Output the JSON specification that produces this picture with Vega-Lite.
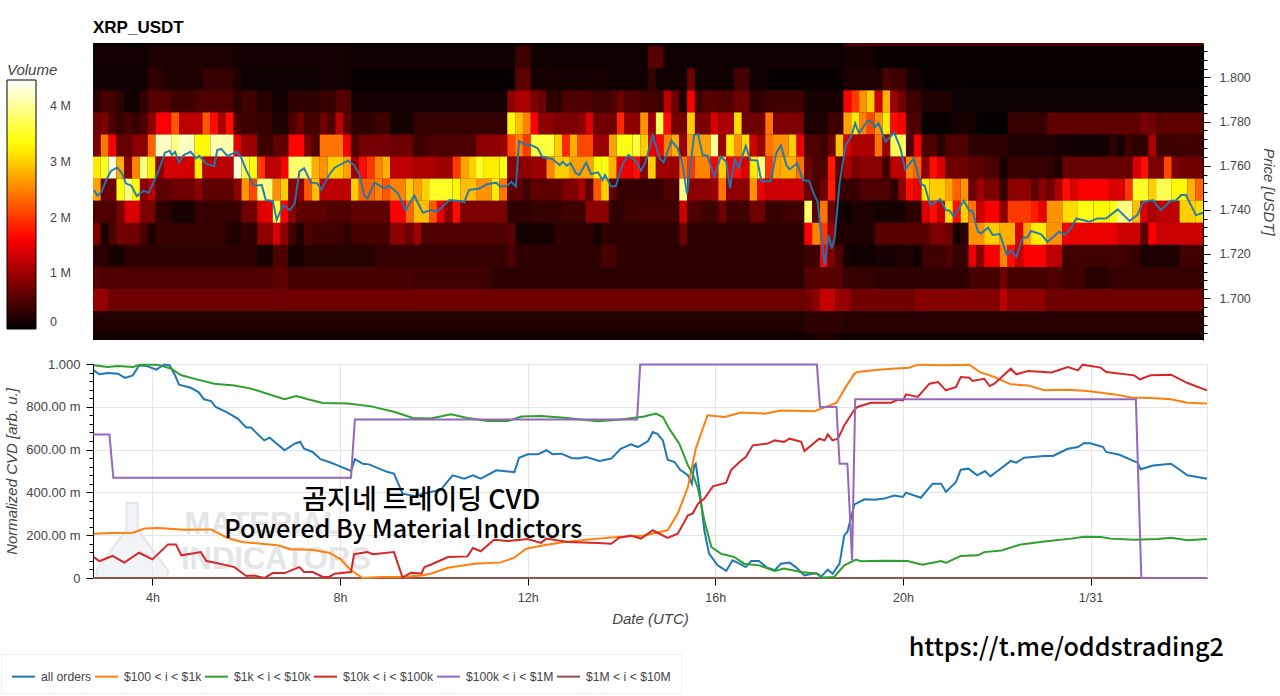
{"$schema":"https://vega.github.io/schema/vega-lite/v6.json","background":"white","padding":{"left":0,"top":19,"right":0,"bottom":0},"bounds":"flush","spacing":24,
"config":{"font":"Liberation Sans","view":{"stroke":null},"axis":{"labelColor":"#444444","titleColor":"#444444","titleFontStyle":"italic","titleFontWeight":"normal","titleFontSize":15,"labelFontSize":12.5,"domainColor":"#000000","tickColor":"#000000","labelOverlap":false,"labelBound":false}},
"resolve":{"scale":{"color":"independent"},"legend":{"color":"independent"}},
"datasets":{
"cells":[
{"t":164,"e":1124,"p":1.8191,"v":0.05},{"t":1124,"e":1584,"p":1.8191,"v":0.5},
{"t":164,"e":234,"p":1.8091,"v":0.12},{"t":234,"e":344,"p":1.8091,"v":0.2},{"t":344,"e":494,"p":1.8091,"v":0.12},{"t":494,"e":704,"p":1.8091,"v":0.1},{"t":704,"e":724,"p":1.8091,"v":0.4},{"t":724,"e":874,"p":1.8091,"v":0.1},{"t":874,"e":894,"p":1.8091,"v":0.55},{"t":894,"e":1124,"p":1.8091,"v":0.1},{"t":1124,"e":1164,"p":1.8091,"v":0.15},{"t":1164,"e":1584,"p":1.8091,"v":0.05},
{"t":164,"e":234,"p":1.7991,"v":0.1},{"t":234,"e":254,"p":1.7991,"v":0.3},{"t":254,"e":304,"p":1.7991,"v":0.2},{"t":304,"e":344,"p":1.7991,"v":0.35},{"t":344,"e":354,"p":1.7991,"v":0.2},{"t":354,"e":454,"p":1.7991,"v":0.08},{"t":454,"e":494,"p":1.7991,"v":0.12},{"t":494,"e":704,"p":1.7991,"v":0.05},{"t":704,"e":724,"p":1.7991,"v":0.6},{"t":724,"e":824,"p":1.7991,"v":0.15},{"t":824,"e":874,"p":1.7991,"v":0.1},{"t":874,"e":884,"p":1.7991,"v":0.35},{"t":884,"e":924,"p":1.7991,"v":0.1},{"t":924,"e":934,"p":1.7991,"v":0.7},{"t":934,"e":984,"p":1.7991,"v":0.1},{"t":984,"e":1004,"p":1.7991,"v":0.45},{"t":1004,"e":1024,"p":1.7991,"v":0.1},{"t":1024,"e":1124,"p":1.7991,"v":0.05},{"t":1124,"e":1174,"p":1.7991,"v":0.2},{"t":1174,"e":1184,"p":1.7991,"v":0.5},{"t":1184,"e":1204,"p":1.7991,"v":0.4},{"t":1204,"e":1224,"p":1.7991,"v":0.15},{"t":1224,"e":1584,"p":1.7991,"v":0.05},
{"t":164,"e":174,"p":1.7891,"v":0.3},{"t":174,"e":194,"p":1.7891,"v":0.45},{"t":194,"e":204,"p":1.7891,"v":0.3},{"t":204,"e":224,"p":1.7891,"v":0.1},{"t":224,"e":234,"p":1.7891,"v":0.3},{"t":234,"e":264,"p":1.7891,"v":0.55},{"t":264,"e":294,"p":1.7891,"v":0.4},{"t":294,"e":344,"p":1.7891,"v":0.5},{"t":344,"e":354,"p":1.7891,"v":0.3},{"t":354,"e":374,"p":1.7891,"v":0.4},{"t":374,"e":394,"p":1.7891,"v":0.25},{"t":394,"e":414,"p":1.7891,"v":0.1},{"t":414,"e":454,"p":1.7891,"v":0.3},{"t":454,"e":474,"p":1.7891,"v":0.35},{"t":474,"e":494,"p":1.7891,"v":0.55},{"t":494,"e":694,"p":1.7891,"v":0.12},{"t":694,"e":704,"p":1.7891,"v":0.9},{"t":704,"e":724,"p":1.7891,"v":1.1},{"t":724,"e":734,"p":1.7891,"v":0.8},{"t":734,"e":744,"p":1.7891,"v":0.7},{"t":744,"e":764,"p":1.7891,"v":0.3},{"t":764,"e":804,"p":1.7891,"v":0.5},{"t":804,"e":824,"p":1.7891,"v":0.4},{"t":824,"e":834,"p":1.7891,"v":0.5},{"t":834,"e":844,"p":1.7891,"v":0.7},{"t":844,"e":864,"p":1.7891,"v":0.5},{"t":864,"e":884,"p":1.7891,"v":0.45},{"t":884,"e":894,"p":1.7891,"v":0.4},{"t":894,"e":904,"p":1.7891,"v":1.2},{"t":904,"e":914,"p":1.7891,"v":0.7},{"t":914,"e":924,"p":1.7891,"v":0.2},{"t":924,"e":934,"p":1.7891,"v":1.6},{"t":934,"e":944,"p":1.7891,"v":0.4},{"t":944,"e":964,"p":1.7891,"v":0.55},{"t":964,"e":984,"p":1.7891,"v":0.5},{"t":984,"e":1004,"p":1.7891,"v":0.7},{"t":1004,"e":1024,"p":1.7891,"v":0.3},{"t":1024,"e":1074,"p":1.7891,"v":0.4},{"t":1074,"e":1124,"p":1.7891,"v":0.15},{"t":1124,"e":1134,"p":1.7891,"v":1.6},{"t":1134,"e":1144,"p":1.7891,"v":2},{"t":1144,"e":1154,"p":1.7891,"v":2.6},{"t":1154,"e":1164,"p":1.7891,"v":3},{"t":1164,"e":1174,"p":1.7891,"v":1.3},{"t":1174,"e":1184,"p":1.7891,"v":2.8},{"t":1184,"e":1194,"p":1.7891,"v":1},{"t":1194,"e":1204,"p":1.7891,"v":0.7},{"t":1204,"e":1224,"p":1.7891,"v":0.4},{"t":1224,"e":1264,"p":1.7891,"v":0.2},{"t":1264,"e":1584,"p":1.7891,"v":0.08},
{"t":164,"e":174,"p":1.7791,"v":0.7},{"t":174,"e":184,"p":1.7791,"v":0.8},{"t":184,"e":194,"p":1.7791,"v":0.5},{"t":194,"e":204,"p":1.7791,"v":0.35},{"t":204,"e":214,"p":1.7791,"v":0.45},{"t":214,"e":224,"p":1.7791,"v":0.35},{"t":224,"e":234,"p":1.7791,"v":0.5},{"t":234,"e":244,"p":1.7791,"v":0.9},{"t":244,"e":264,"p":1.7791,"v":1.6},{"t":264,"e":274,"p":1.7791,"v":2.2},{"t":274,"e":304,"p":1.7791,"v":1.2},{"t":304,"e":314,"p":1.7791,"v":2.2},{"t":314,"e":324,"p":1.7791,"v":1.7},{"t":324,"e":334,"p":1.7791,"v":1.1},{"t":334,"e":344,"p":1.7791,"v":1.7},{"t":344,"e":354,"p":1.7791,"v":0.5},{"t":354,"e":374,"p":1.7791,"v":0.4},{"t":374,"e":394,"p":1.7791,"v":0.35},{"t":394,"e":414,"p":1.7791,"v":0.2},{"t":414,"e":424,"p":1.7791,"v":0.5},{"t":424,"e":434,"p":1.7791,"v":0.7},{"t":434,"e":454,"p":1.7791,"v":0.45},{"t":454,"e":464,"p":1.7791,"v":0.7},{"t":464,"e":474,"p":1.7791,"v":0.5},{"t":474,"e":484,"p":1.7791,"v":1.2},{"t":484,"e":494,"p":1.7791,"v":0.6},{"t":494,"e":524,"p":1.7791,"v":0.3},{"t":524,"e":544,"p":1.7791,"v":0.4},{"t":544,"e":574,"p":1.7791,"v":0.15},{"t":574,"e":694,"p":1.7791,"v":0.33},{"t":694,"e":704,"p":1.7791,"v":3.3},{"t":704,"e":714,"p":1.7791,"v":2.9},{"t":714,"e":724,"p":1.7791,"v":2.5},{"t":724,"e":734,"p":1.7791,"v":1.6},{"t":734,"e":754,"p":1.7791,"v":0.9},{"t":754,"e":784,"p":1.7791,"v":0.8},{"t":784,"e":794,"p":1.7791,"v":0.9},{"t":794,"e":804,"p":1.7791,"v":1.4},{"t":804,"e":834,"p":1.7791,"v":0.7},{"t":834,"e":844,"p":1.7791,"v":1.9},{"t":844,"e":864,"p":1.7791,"v":0.9},{"t":864,"e":874,"p":1.7791,"v":2.6},{"t":874,"e":884,"p":1.7791,"v":1},{"t":884,"e":894,"p":1.7791,"v":3.7},{"t":894,"e":904,"p":1.7791,"v":1.7},{"t":904,"e":924,"p":1.7791,"v":0.75},{"t":924,"e":934,"p":1.7791,"v":3},{"t":934,"e":954,"p":1.7791,"v":0.8},{"t":954,"e":964,"p":1.7791,"v":1.4},{"t":964,"e":984,"p":1.7791,"v":1.1},{"t":984,"e":994,"p":1.7791,"v":3.1},{"t":994,"e":1024,"p":1.7791,"v":0.7},{"t":1024,"e":1034,"p":1.7791,"v":2.4},{"t":1034,"e":1074,"p":1.7791,"v":0.8},{"t":1074,"e":1104,"p":1.7791,"v":0.2},{"t":1104,"e":1124,"p":1.7791,"v":0.4},{"t":1124,"e":1134,"p":1.7791,"v":2.7},{"t":1134,"e":1144,"p":1.7791,"v":3.2},{"t":1144,"e":1154,"p":1.7791,"v":2.5},{"t":1154,"e":1164,"p":1.7791,"v":2.1},{"t":1164,"e":1174,"p":1.7791,"v":2.6},{"t":1174,"e":1184,"p":1.7791,"v":3.2},{"t":1184,"e":1194,"p":1.7791,"v":1.7},{"t":1194,"e":1204,"p":1.7791,"v":1.6},{"t":1204,"e":1224,"p":1.7791,"v":0.5},{"t":1224,"e":1264,"p":1.7791,"v":0.05},{"t":1264,"e":1294,"p":1.7791,"v":0.15},{"t":1294,"e":1334,"p":1.7791,"v":0.03},{"t":1334,"e":1384,"p":1.7791,"v":0.35},{"t":1384,"e":1504,"p":1.7791,"v":0.6},{"t":1504,"e":1514,"p":1.7791,"v":0.8},{"t":1514,"e":1524,"p":1.7791,"v":0.7},{"t":1524,"e":1584,"p":1.7791,"v":0.6},
{"t":164,"e":174,"p":1.7691,"v":0.8},{"t":174,"e":184,"p":1.7691,"v":2.4},{"t":184,"e":194,"p":1.7691,"v":1.6},{"t":194,"e":214,"p":1.7691,"v":0.65},{"t":214,"e":234,"p":1.7691,"v":0.9},{"t":234,"e":244,"p":1.7691,"v":2.3},{"t":244,"e":264,"p":1.7691,"v":4.2},{"t":264,"e":274,"p":1.7691,"v":3.9},{"t":274,"e":294,"p":1.7691,"v":4.2},{"t":294,"e":314,"p":1.7691,"v":3.3},{"t":314,"e":344,"p":1.7691,"v":4.1},{"t":344,"e":354,"p":1.7691,"v":1.5},{"t":354,"e":374,"p":1.7691,"v":1},{"t":374,"e":394,"p":1.7691,"v":0.4},{"t":394,"e":414,"p":1.7691,"v":0.6},{"t":414,"e":434,"p":1.7691,"v":1.65},{"t":434,"e":444,"p":1.7691,"v":0.8},{"t":444,"e":454,"p":1.7691,"v":0.5},{"t":454,"e":484,"p":1.7691,"v":2.4},{"t":484,"e":494,"p":1.7691,"v":1.6},{"t":494,"e":504,"p":1.7691,"v":0.5},{"t":504,"e":544,"p":1.7691,"v":0.75},{"t":544,"e":574,"p":1.7691,"v":0.7},{"t":574,"e":594,"p":1.7691,"v":0.4},{"t":594,"e":654,"p":1.7691,"v":0.5},{"t":654,"e":684,"p":1.7691,"v":0.9},{"t":684,"e":694,"p":1.7691,"v":1},{"t":694,"e":704,"p":1.7691,"v":2.1},{"t":704,"e":714,"p":1.7691,"v":2.5},{"t":714,"e":724,"p":1.7691,"v":2},{"t":724,"e":754,"p":1.7691,"v":3.6},{"t":754,"e":764,"p":1.7691,"v":3},{"t":764,"e":774,"p":1.7691,"v":1.9},{"t":774,"e":784,"p":1.7691,"v":2.8},{"t":784,"e":804,"p":1.7691,"v":2.1},{"t":804,"e":824,"p":1.7691,"v":1},{"t":824,"e":834,"p":1.7691,"v":2.7},{"t":834,"e":854,"p":1.7691,"v":3.4},{"t":854,"e":864,"p":1.7691,"v":3.6},{"t":864,"e":874,"p":1.7691,"v":3},{"t":874,"e":884,"p":1.7691,"v":1.5},{"t":884,"e":894,"p":1.7691,"v":1.6},{"t":894,"e":904,"p":1.7691,"v":2.5},{"t":904,"e":914,"p":1.7691,"v":2.8},{"t":914,"e":924,"p":1.7691,"v":1},{"t":924,"e":954,"p":1.7691,"v":2.7},{"t":954,"e":964,"p":1.7691,"v":4},{"t":964,"e":974,"p":1.7691,"v":1},{"t":974,"e":984,"p":1.7691,"v":3.2},{"t":984,"e":994,"p":1.7691,"v":2.6},{"t":994,"e":1004,"p":1.7691,"v":3.1},{"t":1004,"e":1014,"p":1.7691,"v":1.3},{"t":1014,"e":1024,"p":1.7691,"v":1},{"t":1024,"e":1034,"p":1.7691,"v":2.4},{"t":1034,"e":1054,"p":1.7691,"v":2.6},{"t":1054,"e":1064,"p":1.7691,"v":3},{"t":1064,"e":1074,"p":1.7691,"v":1.5},{"t":1074,"e":1094,"p":1.7691,"v":0.5},{"t":1094,"e":1104,"p":1.7691,"v":0.4},{"t":1104,"e":1114,"p":1.7691,"v":0.7},{"t":1114,"e":1124,"p":1.7691,"v":2.9},{"t":1124,"e":1134,"p":1.7691,"v":1.4},{"t":1134,"e":1164,"p":1.7691,"v":1.1},{"t":1164,"e":1174,"p":1.7691,"v":2.4},{"t":1174,"e":1184,"p":1.7691,"v":1},{"t":1184,"e":1204,"p":1.7691,"v":3.7},{"t":1204,"e":1214,"p":1.7691,"v":0.5},{"t":1214,"e":1224,"p":1.7691,"v":1.6},{"t":1224,"e":1244,"p":1.7691,"v":0.5},{"t":1244,"e":1254,"p":1.7691,"v":0.25},{"t":1254,"e":1284,"p":1.7691,"v":0.5},{"t":1284,"e":1334,"p":1.7691,"v":0.3},{"t":1334,"e":1394,"p":1.7691,"v":0.2},{"t":1394,"e":1414,"p":1.7691,"v":0.15},{"t":1414,"e":1464,"p":1.7691,"v":0.1},{"t":1464,"e":1474,"p":1.7691,"v":0.3},{"t":1474,"e":1484,"p":1.7691,"v":0.15},{"t":1484,"e":1494,"p":1.7691,"v":0.4},{"t":1494,"e":1514,"p":1.7691,"v":0.3},{"t":1514,"e":1524,"p":1.7691,"v":1.1},{"t":1524,"e":1584,"p":1.7691,"v":0.4},
{"t":164,"e":174,"p":1.7591,"v":3.2},{"t":174,"e":184,"p":1.7591,"v":3.5},{"t":184,"e":194,"p":1.7591,"v":4.3},{"t":194,"e":204,"p":1.7591,"v":2.8},{"t":204,"e":214,"p":1.7591,"v":0.9},{"t":214,"e":224,"p":1.7591,"v":2.5},{"t":224,"e":234,"p":1.7591,"v":3.9},{"t":234,"e":244,"p":1.7591,"v":3.2},{"t":244,"e":254,"p":1.7591,"v":0.9},{"t":254,"e":294,"p":1.7591,"v":1.35},{"t":294,"e":304,"p":1.7591,"v":3.2},{"t":304,"e":344,"p":1.7591,"v":1.2},{"t":344,"e":354,"p":1.7591,"v":4.3},{"t":354,"e":364,"p":1.7591,"v":3.7},{"t":364,"e":374,"p":1.7591,"v":3.4},{"t":374,"e":384,"p":1.7591,"v":2},{"t":384,"e":404,"p":1.7591,"v":1.2},{"t":404,"e":414,"p":1.7591,"v":1.6},{"t":414,"e":444,"p":1.7591,"v":3.8},{"t":444,"e":454,"p":1.7591,"v":2.8},{"t":454,"e":464,"p":1.7591,"v":2.6},{"t":464,"e":484,"p":1.7591,"v":3},{"t":484,"e":494,"p":1.7591,"v":2.7},{"t":494,"e":504,"p":1.7591,"v":1},{"t":504,"e":514,"p":1.7591,"v":1.7},{"t":514,"e":524,"p":1.7591,"v":2},{"t":524,"e":534,"p":1.7591,"v":2.5},{"t":534,"e":544,"p":1.7591,"v":2.8},{"t":544,"e":574,"p":1.7591,"v":1.2},{"t":574,"e":604,"p":1.7591,"v":1.1},{"t":604,"e":624,"p":1.7591,"v":1},{"t":624,"e":634,"p":1.7591,"v":2},{"t":634,"e":644,"p":1.7591,"v":2.7},{"t":644,"e":654,"p":1.7591,"v":3},{"t":654,"e":664,"p":1.7591,"v":3.5},{"t":664,"e":684,"p":1.7591,"v":3.2},{"t":684,"e":694,"p":1.7591,"v":3.4},{"t":694,"e":724,"p":1.7591,"v":0.9},{"t":724,"e":744,"p":1.7591,"v":1},{"t":744,"e":754,"p":1.7591,"v":2.5},{"t":754,"e":774,"p":1.7591,"v":3},{"t":774,"e":804,"p":1.7591,"v":2.7},{"t":804,"e":814,"p":1.7591,"v":3.3},{"t":814,"e":824,"p":1.7591,"v":3.4},{"t":824,"e":834,"p":1.7591,"v":2.8},{"t":834,"e":854,"p":1.7591,"v":1.5},{"t":854,"e":864,"p":1.7591,"v":1.7},{"t":864,"e":874,"p":1.7591,"v":0.9},{"t":874,"e":884,"p":1.7591,"v":3},{"t":884,"e":914,"p":1.7591,"v":1},{"t":914,"e":924,"p":1.7591,"v":2.4},{"t":924,"e":934,"p":1.7591,"v":2},{"t":934,"e":954,"p":1.7591,"v":2.5},{"t":954,"e":964,"p":1.7591,"v":1.6},{"t":964,"e":974,"p":1.7591,"v":3},{"t":974,"e":984,"p":1.7591,"v":1.6},{"t":984,"e":994,"p":1.7591,"v":1.7},{"t":994,"e":1004,"p":1.7591,"v":1.4},{"t":1004,"e":1014,"p":1.7591,"v":3.2},{"t":1014,"e":1024,"p":1.7591,"v":3.9},{"t":1024,"e":1034,"p":1.7591,"v":2},{"t":1034,"e":1044,"p":1.7591,"v":2.7},{"t":1044,"e":1064,"p":1.7591,"v":2.8},{"t":1064,"e":1074,"p":1.7591,"v":2.4},{"t":1074,"e":1084,"p":1.7591,"v":0.7},{"t":1084,"e":1104,"p":1.7591,"v":0.5},{"t":1104,"e":1114,"p":1.7591,"v":1.8},{"t":1114,"e":1124,"p":1.7591,"v":0.6},{"t":1124,"e":1134,"p":1.7591,"v":1.1},{"t":1134,"e":1144,"p":1.7591,"v":0.8},{"t":1144,"e":1164,"p":1.7591,"v":0.9},{"t":1164,"e":1174,"p":1.7591,"v":0.9},{"t":1174,"e":1184,"p":1.7591,"v":0.4},{"t":1184,"e":1204,"p":1.7591,"v":1.2},{"t":1204,"e":1214,"p":1.7591,"v":2.5},{"t":1214,"e":1224,"p":1.7591,"v":2.3},{"t":1224,"e":1234,"p":1.7591,"v":0.9},{"t":1234,"e":1244,"p":1.7591,"v":1.7},{"t":1244,"e":1254,"p":1.7591,"v":1.4},{"t":1254,"e":1284,"p":1.7591,"v":0.7},{"t":1284,"e":1304,"p":1.7591,"v":0.6},{"t":1304,"e":1324,"p":1.7591,"v":0.5},{"t":1324,"e":1334,"p":1.7591,"v":0.15},{"t":1334,"e":1394,"p":1.7591,"v":0.35},{"t":1394,"e":1404,"p":1.7591,"v":0.2},{"t":1404,"e":1494,"p":1.7591,"v":0.65},{"t":1494,"e":1504,"p":1.7591,"v":1.4},{"t":1504,"e":1514,"p":1.7591,"v":1.7},{"t":1514,"e":1534,"p":1.7591,"v":0.8},{"t":1534,"e":1544,"p":1.7591,"v":2.1},{"t":1544,"e":1554,"p":1.7591,"v":0.8},{"t":1554,"e":1584,"p":1.7591,"v":0.7},
{"t":164,"e":174,"p":1.7491,"v":2.7},{"t":174,"e":194,"p":1.7491,"v":0.7},{"t":194,"e":204,"p":1.7491,"v":3.4},{"t":204,"e":214,"p":1.7491,"v":3.9},{"t":214,"e":224,"p":1.7491,"v":3.3},{"t":224,"e":234,"p":1.7491,"v":0.9},{"t":234,"e":244,"p":1.7491,"v":1.2},{"t":244,"e":264,"p":1.7491,"v":0.6},{"t":264,"e":294,"p":1.7491,"v":0.7},{"t":294,"e":304,"p":1.7491,"v":0.9},{"t":304,"e":344,"p":1.7491,"v":0.6},{"t":344,"e":354,"p":1.7491,"v":0.9},{"t":354,"e":364,"p":1.7491,"v":2.6},{"t":364,"e":374,"p":1.7491,"v":2.1},{"t":374,"e":394,"p":1.7491,"v":3.9},{"t":394,"e":404,"p":1.7491,"v":2.6},{"t":404,"e":414,"p":1.7491,"v":3},{"t":414,"e":434,"p":1.7491,"v":0.9},{"t":434,"e":444,"p":1.7491,"v":2.2},{"t":444,"e":454,"p":1.7491,"v":2.9},{"t":454,"e":494,"p":1.7491,"v":1.2},{"t":494,"e":504,"p":1.7491,"v":3},{"t":504,"e":524,"p":1.7491,"v":2.3},{"t":524,"e":534,"p":1.7491,"v":2.5},{"t":534,"e":544,"p":1.7491,"v":2.2},{"t":544,"e":564,"p":1.7491,"v":2.5},{"t":564,"e":574,"p":1.7491,"v":3},{"t":574,"e":584,"p":1.7491,"v":2.7},{"t":584,"e":594,"p":1.7491,"v":3},{"t":594,"e":624,"p":1.7491,"v":3.5},{"t":624,"e":634,"p":1.7491,"v":3.3},{"t":634,"e":654,"p":1.7491,"v":2.9},{"t":654,"e":674,"p":1.7491,"v":2.6},{"t":674,"e":684,"p":1.7491,"v":3.2},{"t":684,"e":694,"p":1.7491,"v":2.4},{"t":694,"e":714,"p":1.7491,"v":0.6},{"t":714,"e":724,"p":1.7491,"v":0.4},{"t":724,"e":764,"p":1.7491,"v":0.6},{"t":764,"e":784,"p":1.7491,"v":0.8},{"t":784,"e":794,"p":1.7491,"v":1.1},{"t":794,"e":804,"p":1.7491,"v":0.6},{"t":804,"e":814,"p":1.7491,"v":2.2},{"t":814,"e":824,"p":1.7491,"v":3},{"t":824,"e":834,"p":1.7491,"v":0.6},{"t":834,"e":894,"p":1.7491,"v":0.35},{"t":894,"e":914,"p":1.7491,"v":0.5},{"t":914,"e":924,"p":1.7491,"v":3.9},{"t":924,"e":954,"p":1.7491,"v":0.9},{"t":954,"e":964,"p":1.7491,"v":1},{"t":964,"e":974,"p":1.7491,"v":2.4},{"t":974,"e":1004,"p":1.7491,"v":0.9},{"t":1004,"e":1014,"p":1.7491,"v":2.6},{"t":1014,"e":1024,"p":1.7491,"v":1.5},{"t":1024,"e":1074,"p":1.7491,"v":1.3},{"t":1074,"e":1084,"p":1.7491,"v":0.7},{"t":1084,"e":1094,"p":1.7491,"v":0.5},{"t":1094,"e":1104,"p":1.7491,"v":0.7},{"t":1104,"e":1114,"p":1.7491,"v":1.8},{"t":1114,"e":1124,"p":1.7491,"v":0.4},{"t":1124,"e":1144,"p":1.7491,"v":0.35},{"t":1144,"e":1184,"p":1.7491,"v":0.5},{"t":1184,"e":1194,"p":1.7491,"v":0.3},{"t":1194,"e":1204,"p":1.7491,"v":0.9},{"t":1204,"e":1214,"p":1.7491,"v":1.7},{"t":1214,"e":1224,"p":1.7491,"v":1.5},{"t":1224,"e":1234,"p":1.7491,"v":3.2},{"t":1234,"e":1254,"p":1.7491,"v":3},{"t":1254,"e":1264,"p":1.7491,"v":2.7},{"t":1264,"e":1274,"p":1.7491,"v":2.3},{"t":1274,"e":1284,"p":1.7491,"v":2.6},{"t":1284,"e":1294,"p":1.7491,"v":0.7},{"t":1294,"e":1304,"p":1.7491,"v":1},{"t":1304,"e":1324,"p":1.7491,"v":0.8},{"t":1324,"e":1334,"p":1.7491,"v":0.35},{"t":1334,"e":1364,"p":1.7491,"v":0.9},{"t":1364,"e":1374,"p":1.7491,"v":0.6},{"t":1374,"e":1384,"p":1.7491,"v":0.9},{"t":1384,"e":1394,"p":1.7491,"v":0.7},{"t":1394,"e":1404,"p":1.7491,"v":1.1},{"t":1404,"e":1414,"p":1.7491,"v":1.7},{"t":1414,"e":1424,"p":1.7491,"v":1.4},{"t":1424,"e":1464,"p":1.7491,"v":1.6},{"t":1464,"e":1484,"p":1.7491,"v":1.4},{"t":1484,"e":1494,"p":1.7491,"v":2},{"t":1494,"e":1514,"p":1.7491,"v":3.5},{"t":1514,"e":1524,"p":1.7491,"v":3},{"t":1524,"e":1544,"p":1.7491,"v":3.7},{"t":1544,"e":1564,"p":1.7491,"v":3.3},{"t":1564,"e":1574,"p":1.7491,"v":2.8},{"t":1574,"e":1584,"p":1.7491,"v":2.3},
{"t":164,"e":194,"p":1.7391,"v":0.5},{"t":194,"e":204,"p":1.7391,"v":0.8},{"t":204,"e":224,"p":1.7391,"v":1.4},{"t":224,"e":244,"p":1.7391,"v":0.8},{"t":244,"e":264,"p":1.7391,"v":0.3},{"t":264,"e":294,"p":1.7391,"v":0.15},{"t":294,"e":354,"p":1.7391,"v":0.35},{"t":354,"e":374,"p":1.7391,"v":0.7},{"t":374,"e":384,"p":1.7391,"v":1.4},{"t":384,"e":394,"p":1.7391,"v":1.5},{"t":394,"e":404,"p":1.7391,"v":3.6},{"t":404,"e":414,"p":1.7391,"v":1.6},{"t":414,"e":424,"p":1.7391,"v":0.9},{"t":424,"e":464,"p":1.7391,"v":0.6},{"t":464,"e":494,"p":1.7391,"v":0.5},{"t":494,"e":544,"p":1.7391,"v":0.6},{"t":544,"e":564,"p":1.7391,"v":1.6},{"t":564,"e":574,"p":1.7391,"v":2.3},{"t":574,"e":594,"p":1.7391,"v":2.9},{"t":594,"e":604,"p":1.7391,"v":2.2},{"t":604,"e":614,"p":1.7391,"v":1.5},{"t":614,"e":624,"p":1.7391,"v":0.9},{"t":624,"e":634,"p":1.7391,"v":1.7},{"t":634,"e":694,"p":1.7391,"v":0.8},{"t":694,"e":724,"p":1.7391,"v":0.3},{"t":724,"e":764,"p":1.7391,"v":0.35},{"t":764,"e":794,"p":1.7391,"v":0.4},{"t":794,"e":824,"p":1.7391,"v":0.9},{"t":824,"e":844,"p":1.7391,"v":0.3},{"t":844,"e":914,"p":1.7391,"v":0.4},{"t":914,"e":924,"p":1.7391,"v":1.3},{"t":924,"e":944,"p":1.7391,"v":0.5},{"t":944,"e":964,"p":1.7391,"v":0.4},{"t":964,"e":974,"p":1.7391,"v":0.7},{"t":974,"e":1004,"p":1.7391,"v":0.4},{"t":1004,"e":1024,"p":1.7391,"v":0.7},{"t":1024,"e":1044,"p":1.7391,"v":0.35},{"t":1044,"e":1074,"p":1.7391,"v":0.4},{"t":1074,"e":1084,"p":1.7391,"v":3.8},{"t":1084,"e":1094,"p":1.7391,"v":0.6},{"t":1094,"e":1104,"p":1.7391,"v":2.4},{"t":1104,"e":1114,"p":1.7391,"v":0.7},{"t":1114,"e":1124,"p":1.7391,"v":0.15},{"t":1124,"e":1134,"p":1.7391,"v":0.1},{"t":1134,"e":1164,"p":1.7391,"v":0.2},{"t":1164,"e":1204,"p":1.7391,"v":0.15},{"t":1204,"e":1224,"p":1.7391,"v":0.3},{"t":1224,"e":1234,"p":1.7391,"v":1.4},{"t":1234,"e":1244,"p":1.7391,"v":1.7},{"t":1244,"e":1254,"p":1.7391,"v":1.3},{"t":1254,"e":1264,"p":1.7391,"v":3.1},{"t":1264,"e":1274,"p":1.7391,"v":1.7},{"t":1274,"e":1284,"p":1.7391,"v":3},{"t":1284,"e":1294,"p":1.7391,"v":2.4},{"t":1294,"e":1304,"p":1.7391,"v":1.3},{"t":1304,"e":1324,"p":1.7391,"v":1.6},{"t":1324,"e":1334,"p":1.7391,"v":0.9},{"t":1334,"e":1364,"p":1.7391,"v":2},{"t":1364,"e":1374,"p":1.7391,"v":1.8},{"t":1374,"e":1384,"p":1.7391,"v":1.5},{"t":1384,"e":1404,"p":1.7391,"v":2.6},{"t":1404,"e":1424,"p":1.7391,"v":3.1},{"t":1424,"e":1444,"p":1.7391,"v":3.4},{"t":1444,"e":1464,"p":1.7391,"v":3.3},{"t":1464,"e":1474,"p":1.7391,"v":3.4},{"t":1474,"e":1494,"p":1.7391,"v":3.9},{"t":1494,"e":1504,"p":1.7391,"v":2.9},{"t":1504,"e":1514,"p":1.7391,"v":1.4},{"t":1514,"e":1524,"p":1.7391,"v":1.1},{"t":1524,"e":1554,"p":1.7391,"v":1.2},{"t":1554,"e":1574,"p":1.7391,"v":3},{"t":1574,"e":1584,"p":1.7391,"v":3.1},
{"t":164,"e":174,"p":1.7291,"v":0.8},{"t":174,"e":184,"p":1.7291,"v":0.2},{"t":184,"e":194,"p":1.7291,"v":0.5},{"t":194,"e":224,"p":1.7291,"v":0.7},{"t":224,"e":234,"p":1.7291,"v":0.5},{"t":234,"e":244,"p":1.7291,"v":0.2},{"t":244,"e":334,"p":1.7291,"v":0.35},{"t":334,"e":354,"p":1.7291,"v":0.2},{"t":354,"e":374,"p":1.7291,"v":0.3},{"t":374,"e":394,"p":1.7291,"v":0.9},{"t":394,"e":404,"p":1.7291,"v":1.4},{"t":404,"e":414,"p":1.7291,"v":0.9},{"t":414,"e":424,"p":1.7291,"v":0.45},{"t":424,"e":434,"p":1.7291,"v":0.2},{"t":434,"e":444,"p":1.7291,"v":0.5},{"t":444,"e":484,"p":1.7291,"v":0.4},{"t":484,"e":494,"p":1.7291,"v":0.3},{"t":494,"e":544,"p":1.7291,"v":0.45},{"t":544,"e":564,"p":1.7291,"v":0.9},{"t":564,"e":574,"p":1.7291,"v":0.7},{"t":574,"e":584,"p":1.7291,"v":1},{"t":584,"e":694,"p":1.7291,"v":0.5},{"t":694,"e":704,"p":1.7291,"v":0.6},{"t":704,"e":754,"p":1.7291,"v":0.15},{"t":754,"e":804,"p":1.7291,"v":0.3},{"t":804,"e":814,"p":1.7291,"v":0.15},{"t":814,"e":914,"p":1.7291,"v":0.3},{"t":914,"e":924,"p":1.7291,"v":0.7},{"t":924,"e":1074,"p":1.7291,"v":0.3},{"t":1074,"e":1084,"p":1.7291,"v":1.6},{"t":1084,"e":1094,"p":1.7291,"v":2.5},{"t":1094,"e":1104,"p":1.7291,"v":2},{"t":1104,"e":1114,"p":1.7291,"v":1},{"t":1114,"e":1164,"p":1.7291,"v":0.2},{"t":1164,"e":1234,"p":1.7291,"v":0.55},{"t":1234,"e":1254,"p":1.7291,"v":0.8},{"t":1254,"e":1264,"p":1.7291,"v":0.7},{"t":1264,"e":1274,"p":1.7291,"v":0.15},{"t":1274,"e":1284,"p":1.7291,"v":0.3},{"t":1284,"e":1304,"p":1.7291,"v":2.6},{"t":1304,"e":1324,"p":1.7291,"v":3},{"t":1324,"e":1344,"p":1.7291,"v":2.8},{"t":1344,"e":1354,"p":1.7291,"v":1.4},{"t":1354,"e":1364,"p":1.7291,"v":2.7},{"t":1364,"e":1384,"p":1.7291,"v":3.2},{"t":1384,"e":1404,"p":1.7291,"v":2.6},{"t":1404,"e":1414,"p":1.7291,"v":1.6},{"t":1414,"e":1474,"p":1.7291,"v":1.5},{"t":1474,"e":1504,"p":1.7291,"v":1.3},{"t":1504,"e":1514,"p":1.7291,"v":0.6},{"t":1514,"e":1524,"p":1.7291,"v":1.6},{"t":1524,"e":1584,"p":1.7291,"v":1.3},
{"t":164,"e":184,"p":1.7191,"v":0.3},{"t":184,"e":204,"p":1.7191,"v":0.15},{"t":204,"e":374,"p":1.7191,"v":0.3},{"t":374,"e":394,"p":1.7191,"v":0.15},{"t":394,"e":414,"p":1.7191,"v":0.5},{"t":414,"e":434,"p":1.7191,"v":0.15},{"t":434,"e":524,"p":1.7191,"v":0.25},{"t":524,"e":694,"p":1.7191,"v":0.35},{"t":694,"e":704,"p":1.7191,"v":0.5},{"t":704,"e":814,"p":1.7191,"v":0.3},{"t":814,"e":834,"p":1.7191,"v":0.45},{"t":834,"e":1074,"p":1.7191,"v":0.3},{"t":1074,"e":1094,"p":1.7191,"v":0.4},{"t":1094,"e":1104,"p":1.7191,"v":1.6},{"t":1104,"e":1114,"p":1.7191,"v":0.8},{"t":1114,"e":1124,"p":1.7191,"v":0.5},{"t":1124,"e":1134,"p":1.7191,"v":0.15},{"t":1134,"e":1164,"p":1.7191,"v":0.1},{"t":1164,"e":1194,"p":1.7191,"v":0.15},{"t":1194,"e":1214,"p":1.7191,"v":0.2},{"t":1214,"e":1224,"p":1.7191,"v":0.1},{"t":1224,"e":1254,"p":1.7191,"v":0.4},{"t":1254,"e":1264,"p":1.7191,"v":0.5},{"t":1264,"e":1284,"p":1.7191,"v":0.35},{"t":1284,"e":1294,"p":1.7191,"v":1.5},{"t":1294,"e":1304,"p":1.7191,"v":0.9},{"t":1304,"e":1324,"p":1.7191,"v":1.6},{"t":1324,"e":1334,"p":1.7191,"v":2.5},{"t":1334,"e":1344,"p":1.7191,"v":1.7},{"t":1344,"e":1354,"p":1.7191,"v":1.3},{"t":1354,"e":1384,"p":1.7191,"v":1.6},{"t":1384,"e":1404,"p":1.7191,"v":1.2},{"t":1404,"e":1494,"p":1.7191,"v":0.4},{"t":1494,"e":1504,"p":1.7191,"v":0.35},{"t":1504,"e":1554,"p":1.7191,"v":0.2},{"t":1554,"e":1584,"p":1.7191,"v":0.4},
{"t":164,"e":174,"p":1.7091,"v":0.55},{"t":174,"e":394,"p":1.7091,"v":0.5},{"t":394,"e":414,"p":1.7091,"v":0.6},{"t":414,"e":574,"p":1.7091,"v":0.45},{"t":574,"e":674,"p":1.7091,"v":0.4},{"t":674,"e":1074,"p":1.7091,"v":0.28},{"t":1074,"e":1124,"p":1.7091,"v":0.55},{"t":1124,"e":1164,"p":1.7091,"v":0.35},{"t":1164,"e":1284,"p":1.7091,"v":0.3},{"t":1284,"e":1324,"p":1.7091,"v":0.45},{"t":1324,"e":1334,"p":1.7091,"v":0.7},{"t":1334,"e":1384,"p":1.7091,"v":0.45},{"t":1384,"e":1404,"p":1.7091,"v":0.5},{"t":1404,"e":1434,"p":1.7091,"v":0.4},{"t":1434,"e":1464,"p":1.7091,"v":0.25},{"t":1464,"e":1584,"p":1.7091,"v":0.35},
{"t":164,"e":184,"p":1.6991,"v":0.95},{"t":184,"e":1074,"p":1.6991,"v":0.7},{"t":1074,"e":1084,"p":1.6991,"v":0.75},{"t":1084,"e":1094,"p":1.6991,"v":0.9},{"t":1094,"e":1114,"p":1.6991,"v":1.25},{"t":1114,"e":1134,"p":1.6991,"v":0.95},{"t":1134,"e":1214,"p":1.6991,"v":0.72},{"t":1214,"e":1324,"p":1.6991,"v":0.85},{"t":1324,"e":1334,"p":1.6991,"v":1.2},{"t":1334,"e":1384,"p":1.6991,"v":0.9},{"t":1384,"e":1584,"p":1.6991,"v":0.7},
{"t":164,"e":1074,"p":1.6891,"v":0.22},{"t":1074,"e":1124,"p":1.6891,"v":0.3},{"t":1124,"e":1584,"p":1.6891,"v":0.25},
{"t":164,"e":1084,"p":1.6791,"v":0.1},{"t":1084,"e":1114,"p":1.6791,"v":0.2},{"t":1114,"e":1584,"p":1.6791,"v":0.1}
],
"price":[
{"t":165,"p":1.749},{"t":170,"p":1.7464},{"t":175,"p":1.7482},{"t":181,"p":1.7535},{"t":187,"p":1.7576},{"t":195,"p":1.7592},{"t":201,"p":1.7565},{"t":206,"p":1.752},{"t":213,"p":1.7509},{"t":220,"p":1.7462},{"t":229,"p":1.7487},{"t":235,"p":1.7477},{"t":242,"p":1.7527},{"t":249,"p":1.7588},{"t":256,"p":1.7659},{"t":262,"p":1.7668},{"t":265,"p":1.7648},{"t":269,"p":1.7663},{"t":274,"p":1.7614},{"t":280,"p":1.7648},{"t":289,"p":1.7663},{"t":296,"p":1.7633},{"t":300,"p":1.7644},{"t":309,"p":1.7608},{"t":319,"p":1.7598},{"t":323,"p":1.7671},{"t":328,"p":1.7676},{"t":336,"p":1.7644},{"t":348,"p":1.7663},{"t":353,"p":1.7641},{"t":360,"p":1.758},{"t":370,"p":1.7509},{"t":380,"p":1.7512},{"t":385,"p":1.7444},{"t":394,"p":1.744},{"t":399,"p":1.7354},{"t":407,"p":1.7422},{"t":416,"p":1.7399},{"t":422,"p":1.7429},{"t":428,"p":1.7573},{"t":434,"p":1.7588},{"t":443,"p":1.7523},{"t":451,"p":1.752},{"t":456,"p":1.749},{"t":466,"p":1.7558},{"t":473,"p":1.7591},{"t":490,"p":1.7623},{"t":498,"p":1.7603},{"t":505,"p":1.7558},{"t":511,"p":1.7464},{"t":515,"p":1.7452},{"t":524,"p":1.7523},{"t":537,"p":1.7497},{"t":543,"p":1.7509},{"t":554,"p":1.7475},{"t":564,"p":1.7399},{"t":575,"p":1.7464},{"t":586,"p":1.7387},{"t":596,"p":1.7399},{"t":604,"p":1.7391},{"t":620,"p":1.7444},{"t":633,"p":1.744},{"t":639,"p":1.7434},{"t":645,"p":1.749},{"t":658,"p":1.7497},{"t":669,"p":1.7517},{"t":680,"p":1.7523},{"t":685,"p":1.7505},{"t":694,"p":1.7509},{"t":699,"p":1.7527},{"t":705,"p":1.7505},{"t":709,"p":1.7712},{"t":716,"p":1.7697},{"t":724,"p":1.7694},{"t":733,"p":1.7679},{"t":739,"p":1.7638},{"t":752,"p":1.763},{"t":761,"p":1.7603},{"t":765,"p":1.7618},{"t":770,"p":1.76},{"t":775,"p":1.7611},{"t":782,"p":1.7565},{"t":786,"p":1.7558},{"t":795,"p":1.7614},{"t":801,"p":1.7562},{"t":810,"p":1.757},{"t":816,"p":1.7535},{"t":819,"p":1.7558},{"t":827,"p":1.7505},{"t":833,"p":1.7509},{"t":842,"p":1.7611},{"t":849,"p":1.7648},{"t":859,"p":1.7618},{"t":865,"p":1.7577},{"t":871,"p":1.7618},{"t":880,"p":1.7739},{"t":889,"p":1.7633},{"t":894,"p":1.7615},{"t":904,"p":1.7713},{"t":912,"p":1.7679},{"t":918,"p":1.7611},{"t":924,"p":1.7471},{"t":933,"p":1.7739},{"t":938,"p":1.7744},{"t":944,"p":1.7648},{"t":950,"p":1.7645},{"t":959,"p":1.755},{"t":967,"p":1.7641},{"t":974,"p":1.7618},{"t":979,"p":1.7497},{"t":985,"p":1.763},{"t":990,"p":1.7588},{"t":999,"p":1.7689},{"t":1005,"p":1.7626},{"t":1014,"p":1.7623},{"t":1019,"p":1.753},{"t":1031,"p":1.753},{"t":1038,"p":1.7656},{"t":1044,"p":1.7692},{"t":1051,"p":1.7603},{"t":1055,"p":1.7583},{"t":1065,"p":1.7611},{"t":1072,"p":1.7535},{"t":1080,"p":1.753},{"t":1087,"p":1.7464},{"t":1091,"p":1.7437},{"t":1100,"p":1.7149},{"t":1105,"p":1.7286},{"t":1109,"p":1.7225},{"t":1113,"p":1.7278},{"t":1119,"p":1.752},{"t":1127,"p":1.7694},{"t":1134,"p":1.7732},{"t":1139,"p":1.7792},{"t":1144,"p":1.7747},{"t":1155,"p":1.7803},{"t":1159,"p":1.7803},{"t":1164,"p":1.7774},{"t":1169,"p":1.7792},{"t":1178,"p":1.7709},{"t":1189,"p":1.775},{"t":1197,"p":1.7679},{"t":1203,"p":1.7583},{"t":1214,"p":1.7633},{"t":1223,"p":1.7517},{"t":1228,"p":1.7509},{"t":1235,"p":1.7422},{"t":1248,"p":1.7447},{"t":1255,"p":1.7399},{"t":1260,"p":1.7396},{"t":1265,"p":1.7369},{"t":1278,"p":1.7441},{"t":1285,"p":1.7396},{"t":1289,"p":1.7396},{"t":1296,"p":1.7301},{"t":1300,"p":1.7293},{"t":1309,"p":1.732},{"t":1315,"p":1.7286},{"t":1324,"p":1.729},{"t":1333,"p":1.7195},{"t":1339,"p":1.7217},{"t":1345,"p":1.7187},{"t":1353,"p":1.727},{"t":1360,"p":1.7278},{"t":1364,"p":1.7304},{"t":1377,"p":1.7289},{"t":1385,"p":1.7255},{"t":1400,"p":1.7301},{"t":1407,"p":1.7286},{"t":1415,"p":1.7316},{"t":1422,"p":1.7361},{"t":1439,"p":1.7346},{"t":1449,"p":1.7361},{"t":1460,"p":1.7361},{"t":1475,"p":1.7402},{"t":1490,"p":1.735},{"t":1500,"p":1.7376},{"t":1507,"p":1.7434},{"t":1520,"p":1.7444},{"t":1530,"p":1.7399},{"t":1543,"p":1.7441},{"t":1549,"p":1.7441},{"t":1556,"p":1.7467},{"t":1562,"p":1.7467},{"t":1575,"p":1.7376},{"t":1584,"p":1.7387}
],
"cvd":[
{"t":164,"s":"1M","v":0},{"t":1589,"s":"1M","v":0},
{"t":165,"s":"all","v":0.97},{"t":172,"s":"all","v":0.952},{"t":183,"s":"all","v":0.958},{"t":196,"s":"all","v":0.955},{"t":205,"s":"all","v":0.935},{"t":215,"s":"all","v":0.947},{"t":223,"s":"all","v":0.994},{"t":234,"s":"all","v":0.989},{"t":245,"s":"all","v":0.974},{"t":255,"s":"all","v":0.998},{"t":262,"s":"all","v":0.994},{"t":269,"s":"all","v":0.947},{"t":274,"s":"all","v":0.903},{"t":289,"s":"all","v":0.889},{"t":299,"s":"all","v":0.869},{"t":306,"s":"all","v":0.835},{"t":315,"s":"all","v":0.827},{"t":321,"s":"all","v":0.799},{"t":336,"s":"all","v":0.773},{"t":349,"s":"all","v":0.745},{"t":360,"s":"all","v":0.703},{"t":366,"s":"all","v":0.703},{"t":383,"s":"all","v":0.643},{"t":390,"s":"all","v":0.656},{"t":409,"s":"all","v":0.597},{"t":422,"s":"all","v":0.628},{"t":429,"s":"all","v":0.637},{"t":434,"s":"all","v":0.604},{"t":445,"s":"all","v":0.589},{"t":455,"s":"all","v":0.555},{"t":466,"s":"all","v":0.542},{"t":477,"s":"all","v":0.526},{"t":494,"s":"all","v":0.5},{"t":499,"s":"all","v":0.555},{"t":509,"s":"all","v":0.534},{"t":517,"s":"all","v":0.531},{"t":541,"s":"all","v":0.495},{"t":549,"s":"all","v":0.488},{"t":560,"s":"all","v":0.394},{"t":575,"s":"all","v":0.383},{"t":596,"s":"all","v":0.402},{"t":609,"s":"all","v":0.413},{"t":624,"s":"all","v":0.48},{"t":639,"s":"all","v":0.464},{"t":650,"s":"all","v":0.48},{"t":660,"s":"all","v":0.464},{"t":680,"s":"all","v":0.503},{"t":703,"s":"all","v":0.495},{"t":709,"s":"all","v":0.562},{"t":720,"s":"all","v":0.578},{"t":733,"s":"all","v":0.578},{"t":744,"s":"all","v":0.597},{"t":752,"s":"all","v":0.578},{"t":763,"s":"all","v":0.581},{"t":776,"s":"all","v":0.561},{"t":784,"s":"all","v":0.558},{"t":795,"s":"all","v":0.565},{"t":812,"s":"all","v":0.547},{"t":827,"s":"all","v":0.558},{"t":839,"s":"all","v":0.604},{"t":852,"s":"all","v":0.625},{"t":861,"s":"all","v":0.612},{"t":874,"s":"all","v":0.64},{"t":880,"s":"all","v":0.682},{"t":886,"s":"all","v":0.674},{"t":893,"s":"all","v":0.643},{"t":899,"s":"all","v":0.553},{"t":908,"s":"all","v":0.542},{"t":915,"s":"all","v":0.506},{"t":925,"s":"all","v":0.48},{"t":930,"s":"all","v":0.441},{"t":933,"s":"all","v":0.526},{"t":935,"s":"all","v":0.534},{"t":940,"s":"all","v":0.41},{"t":946,"s":"all","v":0.223},{"t":952,"s":"all","v":0.114},{"t":963,"s":"all","v":0.059},{"t":974,"s":"all","v":0.033},{"t":982,"s":"all","v":0.083},{"t":991,"s":"all","v":0.067},{"t":999,"s":"all","v":0.051},{"t":1006,"s":"all","v":0.079},{"t":1016,"s":"all","v":0.079},{"t":1025,"s":"all","v":0.051},{"t":1036,"s":"all","v":0.036},{"t":1044,"s":"all","v":0.067},{"t":1055,"s":"all","v":0.072},{"t":1063,"s":"all","v":0.051},{"t":1074,"s":"all","v":0.012},{"t":1089,"s":"all","v":0.023},{"t":1095,"s":"all","v":0.005},{"t":1104,"s":"all","v":0.039},{"t":1110,"s":"all","v":0.02},{"t":1119,"s":"all","v":0.067},{"t":1125,"s":"all","v":0.199},{"t":1129,"s":"all","v":0.215},{"t":1138,"s":"all","v":0.344},{"t":1151,"s":"all","v":0.368},{"t":1164,"s":"all","v":0.366},{"t":1176,"s":"all","v":0.371},{"t":1189,"s":"all","v":0.385},{"t":1200,"s":"all","v":0.379},{"t":1204,"s":"all","v":0.399},{"t":1223,"s":"all","v":0.375},{"t":1238,"s":"all","v":0.441},{"t":1249,"s":"all","v":0.441},{"t":1255,"s":"all","v":0.402},{"t":1268,"s":"all","v":0.449},{"t":1274,"s":"all","v":0.506},{"t":1284,"s":"all","v":0.511},{"t":1295,"s":"all","v":0.48},{"t":1305,"s":"all","v":0.5},{"t":1312,"s":"all","v":0.475},{"t":1321,"s":"all","v":0.5},{"t":1338,"s":"all","v":0.547},{"t":1345,"s":"all","v":0.539},{"t":1355,"s":"all","v":0.562},{"t":1381,"s":"all","v":0.57},{"t":1392,"s":"all","v":0.57},{"t":1411,"s":"all","v":0.604},{"t":1424,"s":"all","v":0.612},{"t":1432,"s":"all","v":0.631},{"t":1441,"s":"all","v":0.628},{"t":1456,"s":"all","v":0.612},{"t":1460,"s":"all","v":0.589},{"t":1477,"s":"all","v":0.576},{"t":1500,"s":"all","v":0.539},{"t":1504,"s":"all","v":0.508},{"t":1520,"s":"all","v":0.526},{"t":1543,"s":"all","v":0.534},{"t":1564,"s":"all","v":0.48},{"t":1589,"s":"all","v":0.464},
{"t":165,"s":"100","v":0.207},{"t":187,"s":"100","v":0.21},{"t":215,"s":"100","v":0.212},{"t":230,"s":"100","v":0.231},{"t":247,"s":"100","v":0.234},{"t":281,"s":"100","v":0.226},{"t":315,"s":"100","v":0.227},{"t":336,"s":"100","v":0.187},{"t":355,"s":"100","v":0.168},{"t":379,"s":"100","v":0.16},{"t":400,"s":"100","v":0.153},{"t":417,"s":"100","v":0.134},{"t":443,"s":"100","v":0.132},{"t":466,"s":"100","v":0.118},{"t":481,"s":"100","v":0.087},{"t":494,"s":"100","v":0.036},{"t":509,"s":"100","v":0},{"t":532,"s":"100","v":0.005},{"t":558,"s":"100","v":0.005},{"t":584,"s":"100","v":0.012},{"t":596,"s":"100","v":0.02},{"t":618,"s":"100","v":0.048},{"t":652,"s":"100","v":0.067},{"t":686,"s":"100","v":0.073},{"t":703,"s":"100","v":0.095},{"t":718,"s":"100","v":0.137},{"t":741,"s":"100","v":0.153},{"t":767,"s":"100","v":0.168},{"t":810,"s":"100","v":0.184},{"t":835,"s":"100","v":0.192},{"t":869,"s":"100","v":0.199},{"t":899,"s":"100","v":0.223},{"t":912,"s":"100","v":0.301},{"t":925,"s":"100","v":0.425},{"t":935,"s":"100","v":0.604},{"t":950,"s":"100","v":0.76},{"t":972,"s":"100","v":0.752},{"t":993,"s":"100","v":0.773},{"t":1023,"s":"100","v":0.768},{"t":1044,"s":"100","v":0.783},{"t":1087,"s":"100","v":0.779},{"t":1115,"s":"100","v":0.818},{"t":1127,"s":"100","v":0.893},{"t":1138,"s":"100","v":0.955},{"t":1142,"s":"100","v":0.963},{"t":1159,"s":"100","v":0.97},{"t":1185,"s":"100","v":0.978},{"t":1208,"s":"100","v":0.983},{"t":1219,"s":"100","v":0.997},{"t":1253,"s":"100","v":0.994},{"t":1285,"s":"100","v":0.997},{"t":1298,"s":"100","v":0.963},{"t":1317,"s":"100","v":0.939},{"t":1338,"s":"100","v":0.905},{"t":1360,"s":"100","v":0.9},{"t":1381,"s":"100","v":0.877},{"t":1411,"s":"100","v":0.88},{"t":1436,"s":"100","v":0.874},{"t":1471,"s":"100","v":0.858},{"t":1492,"s":"100","v":0.843},{"t":1517,"s":"100","v":0.841},{"t":1543,"s":"100","v":0.835},{"t":1564,"s":"100","v":0.819},{"t":1589,"s":"100","v":0.815},
{"t":165,"s":"1k","v":0.994},{"t":183,"s":"1k","v":0.986},{"t":196,"s":"1k","v":0.991},{"t":215,"s":"1k","v":0.986},{"t":225,"s":"1k","v":0.997},{"t":247,"s":"1k","v":0.997},{"t":264,"s":"1k","v":0.978},{"t":277,"s":"1k","v":0.947},{"t":298,"s":"1k","v":0.927},{"t":319,"s":"1k","v":0.908},{"t":345,"s":"1k","v":0.9},{"t":366,"s":"1k","v":0.885},{"t":387,"s":"1k","v":0.861},{"t":409,"s":"1k","v":0.835},{"t":424,"s":"1k","v":0.85},{"t":439,"s":"1k","v":0.835},{"t":458,"s":"1k","v":0.818},{"t":490,"s":"1k","v":0.815},{"t":520,"s":"1k","v":0.802},{"t":550,"s":"1k","v":0.776},{"t":573,"s":"1k","v":0.748},{"t":596,"s":"1k","v":0.745},{"t":622,"s":"1k","v":0.765},{"t":643,"s":"1k","v":0.748},{"t":669,"s":"1k","v":0.734},{"t":695,"s":"1k","v":0.734},{"t":712,"s":"1k","v":0.755},{"t":737,"s":"1k","v":0.757},{"t":767,"s":"1k","v":0.749},{"t":788,"s":"1k","v":0.741},{"t":810,"s":"1k","v":0.732},{"t":839,"s":"1k","v":0.741},{"t":869,"s":"1k","v":0.755},{"t":884,"s":"1k","v":0.768},{"t":893,"s":"1k","v":0.752},{"t":901,"s":"1k","v":0.698},{"t":914,"s":"1k","v":0.628},{"t":925,"s":"1k","v":0.526},{"t":931,"s":"1k","v":0.488},{"t":938,"s":"1k","v":0.417},{"t":946,"s":"1k","v":0.269},{"t":955,"s":"1k","v":0.145},{"t":967,"s":"1k","v":0.114},{"t":984,"s":"1k","v":0.098},{"t":997,"s":"1k","v":0.067},{"t":1016,"s":"1k","v":0.059},{"t":1036,"s":"1k","v":0.033},{"t":1048,"s":"1k","v":0.044},{"t":1070,"s":"1k","v":0.028},{"t":1091,"s":"1k","v":0.02},{"t":1097,"s":"1k","v":0.002},{"t":1112,"s":"1k","v":0.005},{"t":1125,"s":"1k","v":0.059},{"t":1140,"s":"1k","v":0.086},{"t":1146,"s":"1k","v":0.078},{"t":1176,"s":"1k","v":0.081},{"t":1206,"s":"1k","v":0.079},{"t":1225,"s":"1k","v":0.062},{"t":1249,"s":"1k","v":0.079},{"t":1255,"s":"1k","v":0.07},{"t":1274,"s":"1k","v":0.103},{"t":1296,"s":"1k","v":0.106},{"t":1304,"s":"1k","v":0.121},{"t":1326,"s":"1k","v":0.129},{"t":1351,"s":"1k","v":0.157},{"t":1381,"s":"1k","v":0.171},{"t":1415,"s":"1k","v":0.184},{"t":1432,"s":"1k","v":0.193},{"t":1453,"s":"1k","v":0.192},{"t":1466,"s":"1k","v":0.184},{"t":1496,"s":"1k","v":0.179},{"t":1526,"s":"1k","v":0.182},{"t":1543,"s":"1k","v":0.188},{"t":1564,"s":"1k","v":0.176},{"t":1589,"s":"1k","v":0.182},
{"t":165,"s":"10k","v":0.098},{"t":172,"s":"10k","v":0.079},{"t":189,"s":"10k","v":0.103},{"t":204,"s":"10k","v":0.072},{"t":223,"s":"10k","v":0.118},{"t":240,"s":"10k","v":0.087},{"t":260,"s":"10k","v":0.157},{"t":270,"s":"10k","v":0.157},{"t":277,"s":"10k","v":0.106},{"t":302,"s":"10k","v":0.121},{"t":309,"s":"10k","v":0.079},{"t":319,"s":"10k","v":0.072},{"t":345,"s":"10k","v":0.051},{"t":360,"s":"10k","v":0.009},{"t":370,"s":"10k","v":0.012},{"t":383,"s":"10k","v":0},{"t":394,"s":"10k","v":0.023},{"t":409,"s":"10k","v":0.023},{"t":428,"s":"10k","v":0.051},{"t":434,"s":"10k","v":0.028},{"t":445,"s":"10k","v":0.028},{"t":458,"s":"10k","v":0.005},{"t":466,"s":"10k","v":0.005},{"t":473,"s":"10k","v":0.02},{"t":494,"s":"10k","v":0.028},{"t":498,"s":"10k","v":0.111},{"t":515,"s":"10k","v":0.121},{"t":522,"s":"10k","v":0.111},{"t":549,"s":"10k","v":0.121},{"t":560,"s":"10k","v":0.002},{"t":571,"s":"10k","v":0.025},{"t":584,"s":"10k","v":0.02},{"t":588,"s":"10k","v":0.051},{"t":596,"s":"10k","v":0.062},{"t":618,"s":"10k","v":0.098},{"t":643,"s":"10k","v":0.101},{"t":650,"s":"10k","v":0.14},{"t":660,"s":"10k","v":0.125},{"t":677,"s":"10k","v":0.179},{"t":694,"s":"10k","v":0.173},{"t":720,"s":"10k","v":0.182},{"t":737,"s":"10k","v":0.164},{"t":744,"s":"10k","v":0.184},{"t":771,"s":"10k","v":0.168},{"t":810,"s":"10k","v":0.164},{"t":827,"s":"10k","v":0.16},{"t":837,"s":"10k","v":0.188},{"t":852,"s":"10k","v":0.198},{"t":865,"s":"10k","v":0.184},{"t":880,"s":"10k","v":0.223},{"t":899,"s":"10k","v":0.187},{"t":912,"s":"10k","v":0.207},{"t":925,"s":"10k","v":0.293},{"t":931,"s":"10k","v":0.301},{"t":938,"s":"10k","v":0.347},{"t":946,"s":"10k","v":0.371},{"t":957,"s":"10k","v":0.428},{"t":974,"s":"10k","v":0.445},{"t":980,"s":"10k","v":0.503},{"t":991,"s":"10k","v":0.542},{"t":999,"s":"10k","v":0.565},{"t":1008,"s":"10k","v":0.62},{"t":1027,"s":"10k","v":0.628},{"t":1036,"s":"10k","v":0.643},{"t":1048,"s":"10k","v":0.636},{"t":1055,"s":"10k","v":0.651},{"t":1070,"s":"10k","v":0.636},{"t":1074,"s":"10k","v":0.593},{"t":1093,"s":"10k","v":0.651},{"t":1100,"s":"10k","v":0.643},{"t":1104,"s":"10k","v":0.671},{"t":1110,"s":"10k","v":0.643},{"t":1117,"s":"10k","v":0.651},{"t":1125,"s":"10k","v":0.713},{"t":1138,"s":"10k","v":0.787},{"t":1142,"s":"10k","v":0.799},{"t":1159,"s":"10k","v":0.819},{"t":1185,"s":"10k","v":0.819},{"t":1193,"s":"10k","v":0.833},{"t":1200,"s":"10k","v":0.83},{"t":1204,"s":"10k","v":0.858},{"t":1219,"s":"10k","v":0.846},{"t":1234,"s":"10k","v":0.908},{"t":1245,"s":"10k","v":0.916},{"t":1255,"s":"10k","v":0.877},{"t":1268,"s":"10k","v":0.893},{"t":1274,"s":"10k","v":0.939},{"t":1285,"s":"10k","v":0.936},{"t":1289,"s":"10k","v":0.921},{"t":1304,"s":"10k","v":0.931},{"t":1311,"s":"10k","v":0.897},{"t":1317,"s":"10k","v":0.908},{"t":1338,"s":"10k","v":0.978},{"t":1345,"s":"10k","v":0.952},{"t":1360,"s":"10k","v":0.967},{"t":1390,"s":"10k","v":0.96},{"t":1411,"s":"10k","v":0.986},{"t":1424,"s":"10k","v":0.97},{"t":1430,"s":"10k","v":0.997},{"t":1453,"s":"10k","v":0.983},{"t":1460,"s":"10k","v":0.963},{"t":1496,"s":"10k","v":0.947},{"t":1503,"s":"10k","v":0.928},{"t":1517,"s":"10k","v":0.947},{"t":1543,"s":"10k","v":0.95},{"t":1564,"s":"10k","v":0.911},{"t":1589,"s":"10k","v":0.877},
{"t":164,"s":"100k","v":0.671},{"t":185,"s":"100k","v":0.671},{"t":190,"s":"100k","v":0.469},{"t":494,"s":"100k","v":0.469},{"t":499,"s":"100k","v":0.741},{"t":860,"s":"100k","v":0.741},{"t":864,"s":"100k","v":0.998},{"t":1090,"s":"100k","v":0.998},{"t":1094,"s":"100k","v":0.799},{"t":1115,"s":"100k","v":0.799},{"t":1119,"s":"100k","v":0.534},{"t":1129,"s":"100k","v":0.534},{"t":1135,"s":"100k","v":0.083},{"t":1139,"s":"100k","v":0.835},{"t":1498,"s":"100k","v":0.835},{"t":1505,"s":"100k","v":0},{"t":1589,"s":"100k","v":0}
],
"heading":[{"t":584,"v":0.358,"label":"곰지네 트레이딩 CVD"}],
"notes":[{"t":561,"v":0.222,"label":"Powered By Material Indictors"},{"t":1409,"v":-0.325,"label":"https://t.me/oddstrading2"}],
"mark":[{"t":382,"v":0.246,"label":"MATERIAL"},{"t":398,"v":0.083,"label":"INDICATORS"}],
"flask":[{"t":214,"v":0.176}]
},
"vconcat":[
{"width":1110,"height":297,"view":{"fill":"#1a0000","stroke":null},"title":{"text":"XRP_USDT","anchor":"start","frame":"group","fontSize":17,"fontWeight":"bold","color":"#000000","offset":6},
"layer":[
{"data":{"name":"cells"},"mark":{"type":"rect","height":22.2,"clip":true},
"encoding":{"x":{"field":"t","type":"quantitative","scale":{"domain":[164,1584],"nice":false,"zero":false},"axis":null},"x2":{"field":"e"},
"y":{"field":"p","type":"quantitative","scale":{"domain":[1.681,1.8156],"nice":false,"zero":false},
"axis":{"orient":"right","title":"Price [USDT]","titleAngle":90,"titlePadding":10,"grid":false,"labelPadding":9,"tickCount":100,
"values":[1.684,1.688,1.692,1.696,1.7,1.704,1.708,1.712,1.716,1.72,1.724,1.728,1.732,1.736,1.74,1.744,1.748,1.752,1.756,1.76,1.764,1.768,1.772,1.776,1.78,1.784,1.788,1.792,1.796,1.8,1.804,1.808,1.812],
"labelExpr":"abs(datum.value*50-round(datum.value*50))<0.01?format(datum.value,'.3f'):''",
"tickSize":{"condition":{"test":"abs(datum.value*50-round(datum.value*50))<0.01","value":7},"value":4}}},
"color":{"field":"v","type":"quantitative","scale":{"domain":[0,1.63,3.33,4.47],"range":["#000000","#ff0000","#ffff00","#ffffff"],"interpolate":"rgb"},
"legend":{"orient":"none","legendX":-86,"legendY":20,"title":"Volume","titleFontStyle":"italic","titleFontWeight":"normal","titleFontSize":15,"titleColor":"#444444","titlePadding":2,"gradientLength":249,"gradientThickness":29,"gradientStrokeColor":"#000000","gradientStrokeWidth":1,"values":[0,1,2,3,4],"labelExpr":"datum.value==0?'0':datum.value+' M'","labelFontSize":12.5,"labelColor":"#444444","labelOffset":14}}}},
{"data":{"name":"price"},"mark":{"type":"line","color":"#1f77b4","strokeWidth":2,"opacity":0.95},"encoding":{"x":{"field":"t","type":"quantitative"},"y":{"field":"p","type":"quantitative"}}}
]},
{"width":1114,"height":214,"view":{"stroke":"#e5e5e5"},
"layer":[
{"data":{"name":"flask"},"mark":{"type":"point","shape":"M -0.15 -1 L 0.15 -1 L 0.15 -0.3 L 0.95 0.8 Q 1 1 0.75 1 L -0.75 1 Q -1 1 -0.95 0.8 L -0.15 -0.3 Z","size":5600,"filled":true,"fill":"#eaf0f2","stroke":"#e3e6e8","strokeWidth":2,"fillOpacity":0.7},
"encoding":{"x":{"field":"t","type":"quantitative"},"y":{"field":"v","type":"quantitative"}}},
{"data":{"name":"mark"},"mark":{"type":"text","font":"Liberation Sans","fontWeight":"bold","fontSize":31,"color":"#e3e5e7"},
"encoding":{"x":{"field":"t","type":"quantitative"},"y":{"field":"v","type":"quantitative"},"text":{"field":"label"}}},
{"data":{"name":"cvd"},"mark":{"type":"line","strokeWidth":2},
"encoding":{"x":{"field":"t","type":"quantitative","scale":{"domain":[164,1589],"nice":false,"zero":false},
"axis":{"values":[240,480,720,960,1200,1440],"title":"Date (UTC)","titlePadding":8,"tickSize":7,"labelPadding":6,"gridColor":"#e5e5e5","grid":true,"labelExpr":"datum.value==1440?'1/31':(datum.value/60)+'h'"}},
"y":{"field":"v","type":"quantitative","scale":{"domain":[0,1],"nice":false},
"axis":{"title":"Normalized CVD [arb. u.]","titlePadding":6,"labelFontSize":13,"labelPadding":6,"grid":true,"gridColor":"#e5e5e5","tickCount":100,
"values":[0,0.04,0.08,0.12,0.16,0.2,0.24,0.28,0.32,0.36,0.4,0.44,0.48,0.52,0.56,0.6,0.64,0.68,0.72,0.76,0.8,0.84,0.88,0.92,0.96,1],
"labelExpr":"abs(datum.value*5-round(datum.value*5))<0.01?(datum.value==0?'0':datum.value==1?'1.000':format(datum.value*1000,'.2f')+' m'):''",
"tickSize":{"condition":{"test":"abs(datum.value*5-round(datum.value*5))<0.01","value":7},"value":4},
"gridOpacity":{"condition":{"test":"abs(datum.value*5-round(datum.value*5))<0.01","value":1},"value":0}}},
"color":{"field":"s","type":"nominal","scale":{"domain":["all","100","1k","10k","100k","1M"],"range":["#1f77b4","#ff7f0e","#2ca02c","#d62728","#9467bd","#8c564b"]},
"legend":{"orient":"none","direction":"horizontal","columns":6,"legendX":-92,"legendY":290,"title":null,"symbolType":"stroke","symbolSize":529,"symbolStrokeWidth":2,"labelFontSize":12.2,"labelColor":"#444444","columnPadding":-1,"labelOffset":5,"strokeColor":"#eeeeee","fillColor":"#ffffff","padding":10,"labelLimit":200,
"labelExpr":"{'all':'all orders','100':'$100 < i < $1k','1k':'$1k < i < $10k','10k':'$10k < i < $100k','100k':'$100k < i < $1M','1M':'$1M < i < $10M'}[datum.label]"}}}},
{"data":{"name":"heading"},"mark":{"type":"text","font":"Noto Sans CJK KR","fontWeight":500,"fontSize":27,"color":"#000000"},
"encoding":{"x":{"field":"t","type":"quantitative"},"y":{"field":"v","type":"quantitative"},"text":{"field":"label"}}},
{"data":{"name":"notes"},"mark":{"type":"text","font":"Noto Sans CJK KR","fontWeight":500,"fontSize":25.2,"color":"#000000"},
"encoding":{"x":{"field":"t","type":"quantitative"},"y":{"field":"v","type":"quantitative"},"text":{"field":"label"}}}
]}
]}
